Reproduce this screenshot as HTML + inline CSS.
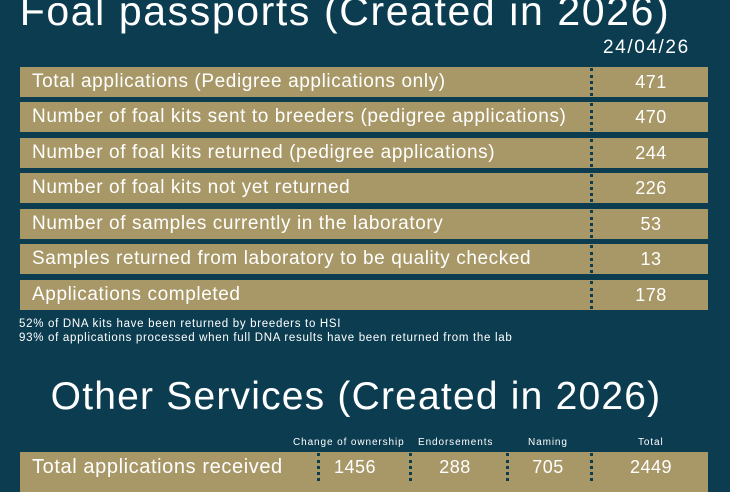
<!DOCTYPE html><html><head><style>
body{margin:0;width:730px;height:482px;overflow:hidden;background:#0b3c50;font-family:"Liberation Sans",sans-serif;color:#fff;position:relative}
.a{position:absolute;white-space:nowrap}
.bar{position:absolute;left:20px;width:688px;height:30px;background:#a89867}
.bar .l{position:absolute;left:12px;top:4px;font-size:19px;letter-spacing:0.6px}
.bar .v{position:absolute;left:592px;width:122px;text-align:center;top:5px;font-size:18px;letter-spacing:0.5px}
.d{position:absolute;top:1px;height:28px;border-left:3px dotted #0b3c50}
.h{font-size:10px;letter-spacing:0.9px;top:437px}
</style></head><body>
<div class="a" style="left:0;width:690px;text-align:center;top:-12px;font-size:41px;letter-spacing:1.6px">Foal passports (Created in 2026)</div>
<div class="a" style="left:603px;top:37px;font-size:19px;letter-spacing:1.6px">24/04/26</div>
<div class="bar" style="top:67px"><span class="l">Total applications (Pedigree applications only)</span><div class="d" style="left:570px"></div><span class="v" style="left:570px">471</span></div>
<div class="bar" style="top:102px"><span class="l">Number of foal kits sent to breeders (pedigree applications)</span><div class="d" style="left:570px"></div><span class="v" style="left:570px">470</span></div>
<div class="bar" style="top:138px"><span class="l">Number of foal kits returned (pedigree applications)</span><div class="d" style="left:570px"></div><span class="v" style="left:570px">244</span></div>
<div class="bar" style="top:173px"><span class="l">Number of foal kits not yet returned</span><div class="d" style="left:570px"></div><span class="v" style="left:570px">226</span></div>
<div class="bar" style="top:209px"><span class="l">Number of samples currently in the laboratory</span><div class="d" style="left:570px"></div><span class="v" style="left:570px">53</span></div>
<div class="bar" style="top:244px"><span class="l">Samples returned from laboratory to be quality checked</span><div class="d" style="left:570px"></div><span class="v" style="left:570px">13</span></div>
<div class="bar" style="top:280px"><span class="l">Applications completed</span><div class="d" style="left:570px"></div><span class="v" style="left:570px">178</span></div>
<div class="a" style="left:19px;top:317px;font-size:11.5px;line-height:14px;letter-spacing:0.7px">52% of DNA kits have been returned by breeders to HSI<br>93% of applications processed when full DNA results have been returned from the lab</div>
<div class="a" style="left:0;width:712px;text-align:center;top:375px;font-size:39px;letter-spacing:1.2px">Other Services (Created in 2026)</div>
<div class="a h" style="left:293px">Change of ownership</div>
<div class="a h" style="left:418px">Endorsements</div>
<div class="a h" style="left:528px">Naming</div>
<div class="a h" style="left:638px">Total</div>
<div class="bar" style="top:452px;height:40px"><span class="l" style="top:4px;font-size:20px">Total applications received</span>
<div class="d" style="left:297px"></div><span class="v" style="left:300px;width:70px">1456</span>
<div class="d" style="left:389px"></div><span class="v" style="left:390px;width:90px">288</span>
<div class="d" style="left:486px"></div><span class="v" style="left:488px;width:80px">705</span>
<div class="d" style="left:570px"></div><span class="v" style="left:570px">2449</span></div>
</body></html>
